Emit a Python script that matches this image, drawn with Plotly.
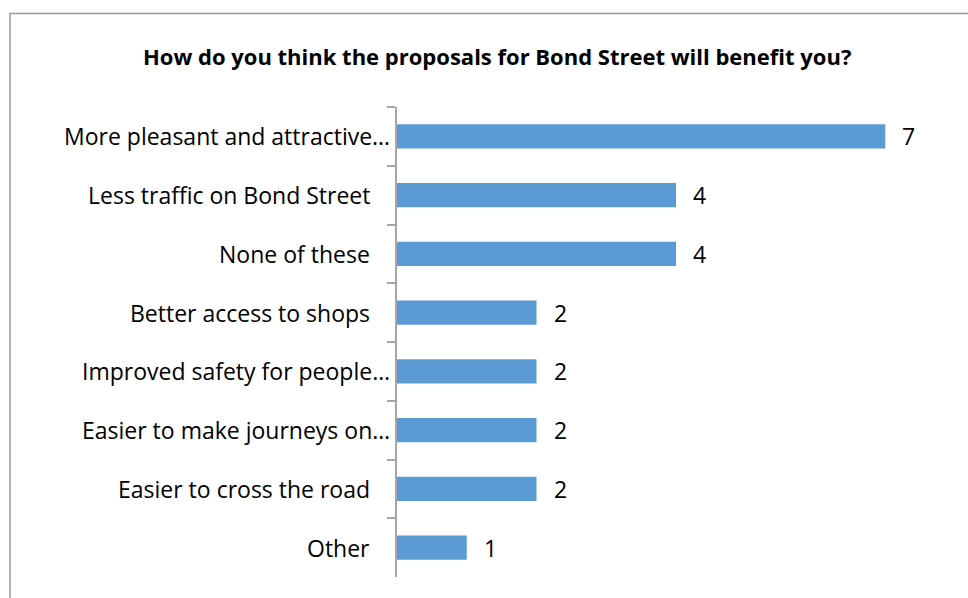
import plotly.graph_objects as go

# Survey responses: how the Bond Street proposals benefit respondents
categories = [
    "More pleasant and attractive…",
    "Less traffic on Bond Street",
    "None of these",
    "Better access to shops",
    "Improved safety for people…",
    "Easier to make journeys on…",
    "Easier to cross the road",
    "Other",
]
counts = [7, 4, 4, 2, 2, 2, 2, 1]

title_text = "How do you think the proposals for Bond Street will benefit you?"

FONT = "Open Sans"
BAR_COLOR = "#5B9BD5"
W, H = 968, 598
M_L, M_R, M_T, M_B = 397, 13, 107, 21
plot_w = W - M_L - M_R
plot_h = H - M_T - M_B


def px_to_paper_x(px):
    return (px - M_L) / plot_w


def px_to_paper_y(py):
    return (H - M_B - py) / plot_h


fig = go.Figure(
    go.Bar(
        x=counts,
        y=categories,
        orientation="h",
        marker=dict(color=BAR_COLOR, line=dict(width=0)),
        width=0.41,
        hoverinfo="x+y",
    )
)

annotations = []
# category labels, right-aligned beside the axis
for cat in categories:
    truncated = cat.endswith("…")
    annotations.append(
        dict(
            x=0, y=cat, xref="paper", yref="y",
            text=cat, showarrow=False,
            xanchor="right", yanchor="middle",
            xshift=-5 if truncated else -25,
            font=dict(family=FONT, size=23, color="#000000"),
        )
    )
# value labels at the end of each bar
for cat, v in zip(categories, counts):
    annotations.append(
        dict(
            x=v, y=cat, xref="x", yref="y",
            text=str(v), showarrow=False,
            xanchor="left", yanchor="middle",
            xshift=15,
            font=dict(family=FONT, size=23, color="#000000"),
        )
    )
# chart title
annotations.append(
    dict(
        x=px_to_paper_x(497), y=px_to_paper_y(56), xref="paper", yref="paper",
        text="<b>" + title_text + "</b>", showarrow=False,
        xanchor="center", yanchor="middle",
        font=dict(family=FONT, size=22, color="#000000"),
    )
)

fig.update_layout(
    width=W, height=H,
    margin=dict(l=M_L, r=M_R, t=M_T, b=M_B, pad=0),
    paper_bgcolor="white", plot_bgcolor="white",
    showlegend=False,
    annotations=annotations,
    shapes=[
        # outer chart border
        dict(
            type="rect", xref="paper", yref="paper",
            x0=px_to_paper_x(10), x1=px_to_paper_x(W + 20),
            y0=px_to_paper_y(H + 20), y1=px_to_paper_y(13.5),
            line=dict(color="#9a9a9a", width=1.5), fillcolor="rgba(0,0,0,0)",
            layer="below",
        )
    ],
    xaxis=dict(
        range=[0, 8], visible=False, showgrid=False, zeroline=False,
    ),
    yaxis=dict(
        categoryorder="array", categoryarray=categories,
        autorange="reversed",
        showticklabels=False,
        showline=True, linecolor="#a6a6a6", linewidth=1.5,
        ticks="outside", ticklen=8, tickcolor="#a6a6a6", tickwidth=1.5,
        tickson="boundaries",
        showgrid=False, zeroline=False,
    ),
)

fig.write_html("out.html")
